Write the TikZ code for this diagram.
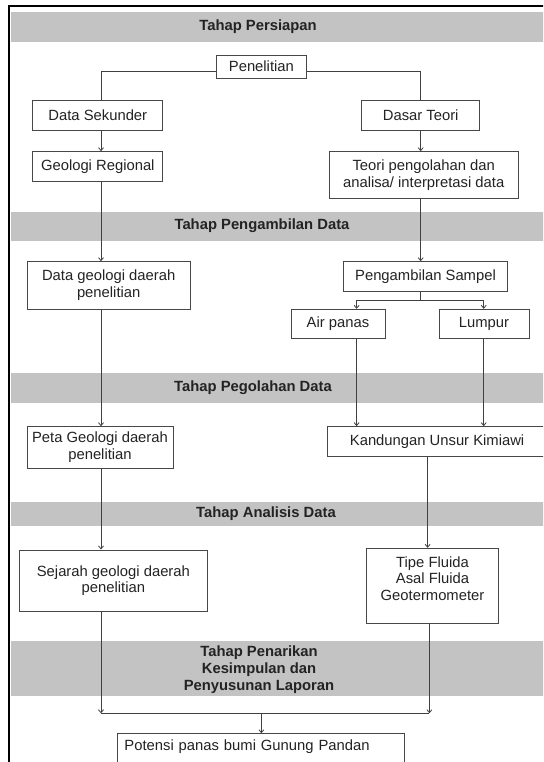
\documentclass[tikz,border=0pt]{standalone}
\usepackage{fontspec}
\setmainfont{Liberation Sans}
\usetikzlibrary{arrows.meta,calc}
\newcommand{\boxfont}{\fontsize{14.8pt}{16.7pt}\selectfont}
\definecolor{bandgray}{RGB}{195,195,195}
\definecolor{txt}{RGB}{35,35,35}
\tikzset{
  box/.style={draw=black!72, line width=0.9pt, fill=white, align=center, inner sep=0pt, font=\boxfont, text=txt},
  conn/.style={draw=black!75, line width=0.8pt},
  arr/.style={conn, -{Straight Barb[length=3pt,width=5pt]}},
  bandtitle/.style={font=\boxfont\bfseries, align=center, text=txt, inner sep=0pt},
  band/.style={fill=bandgray}
}
\begin{document}
\begin{tikzpicture}[x=1pt,y=-1pt]
\useasboundingbox (0,0) rectangle (543,762);
\clip (0,0) rectangle (543,762);
% bands
\fill[band] (10.5,12.5) rectangle (560,41.7);
\fill[band] (10.5,211.7) rectangle (560,240.7);
\fill[band] (10.5,373.3) rectangle (560,402.7);
\fill[band] (10.5,501.7) rectangle (560,526);
\fill[band] (10.5,641) rectangle (560,696);
\node[bandtitle] (b1) at (258,27) {Tahap Persiapan};
\node[bandtitle] (b2) at (262,226) {Tahap Pengambilan Data};
\node[bandtitle] (b3) at (253,388) {Tahap Pegolahan Data};
\node[bandtitle] (b4) at (266,514) {Tahap Analisis Data};
\node[bandtitle] (b5) at (259,669.5) {Tahap Penarikan\\Kesimpulan dan\\Penyusunan Laporan};
% frame
\draw[line width=2pt, black] (9,800) -- (9,5.7) -- (560,5.7);
% column coordinates
\coordinate (L) at (101,0);
\coordinate (R) at (420.7,0);
\coordinate (RA) at (356.6,0);
\coordinate (RL) at (483.7,0);
\coordinate (RK) at (427.6,0);
\coordinate (RT) at (429.4,0);
% boxes
\node[box, minimum width=90pt, minimum height=23.3pt] (pen) at (261.4,66.7) {Penelitian};
\node[box, minimum width=129.8pt, minimum height=30pt] (dsek) at (97.8,115) {Data Sekunder};
\node[box, minimum width=117.8pt, minimum height=30pt] (dteori) at (420.7,115) {Dasar Teori};
\node[box, minimum width=129.8pt, minimum height=30pt] (georeg) at (97.8,166.7) {Geologi Regional};
\node[box, minimum width=189.3pt, minimum height=46.6pt] (teori) at (423.7,175) {Teori pengolahan dan\\analisa/ interpretasi data};
\node[box, minimum width=163.4pt, minimum height=47.6pt] (datageo) at (108.7,285.5) {Data geologi daerah\\penelitian};
\node[box, minimum width=163.5pt, minimum height=29.3pt] (sampel) at (425.5,276.3) {Pengambilan Sampel};
\node[box, minimum width=94.1pt, minimum height=29pt] (air) at (338,323.8) {Air panas};
\node[box, minimum width=90pt, minimum height=29pt] (lumpur) at (484,323.8) {Lumpur};
\node[box, minimum width=146pt, minimum height=41.6pt] (peta) at (100,447.5) {Peta Geologi daerah\\penelitian};
\node[box, minimum width=219.8pt, minimum height=29.3pt] (kand) at (437.1,441.3) {Kandungan Unsur Kimiawi};
\node[box, minimum width=188.8pt, minimum height=61.7pt] (sejarah) at (113.4,580.8) {Sejarah geologi daerah\\penelitian};
\node[box, minimum width=132.3pt, minimum height=75pt] (tipe) at (432.5,585.8) {Tipe Fluida\\Asal Fluida\\Geotermometer\\[-2pt]\mbox{}};
\node[box, anchor=north west, inner xsep=7pt, inner ysep=0pt, text width=273.4pt, align=left, text height=17pt, text depth=23pt] (pot) at (117,733.3) {Potensi panas bumi Gunung Pandan};
% connectors
\draw[conn] ([yshift=-5pt]pen.west) -| (dsek.north -| L);
\draw[conn] ([yshift=-5pt]pen.east) -| (dteori.north -| R);
\draw[arr] (dsek.south -| L) -- (georeg.north -| L);
\draw[arr] (dteori.south -| R) -- (teori.north -| R);
\draw[arr] (georeg.south -| L) -- (datageo.north -| L);
\draw[arr] (teori.south -| R) -- (sampel.north -| R);
\coordinate (split) at (420.7,300);
\draw[conn] (sampel.south -| R) -- (split);
\draw[arr] (split) -| (air.north -| RA);
\draw[arr] (split) -| (lumpur.north -| RL);
\draw[arr] (datageo.south -| L) -- (peta.north -| L);
\draw[arr] (air.south -| RA) -- (kand.north -| RA);
\draw[arr] (lumpur.south -| RL) -- (kand.north -| RL);
\draw[arr] (kand.south -| RK) -- (tipe.north -| RK);
\draw[arr] (peta.south -| L) -- (sejarah.north -| L);
\coordinate (J1) at (101,713.3);
\coordinate (J2) at (429.4,713.3);
\coordinate (Jm) at (261.4,713.3);
\draw[arr] (sejarah.south -| L) -- (J1);
\draw[arr] (tipe.south -| RT) -- (J2);
\draw[conn] (J1) -- (J2);
\draw[arr] (Jm) -- (pot.north -| Jm);
\end{tikzpicture}
\end{document}
